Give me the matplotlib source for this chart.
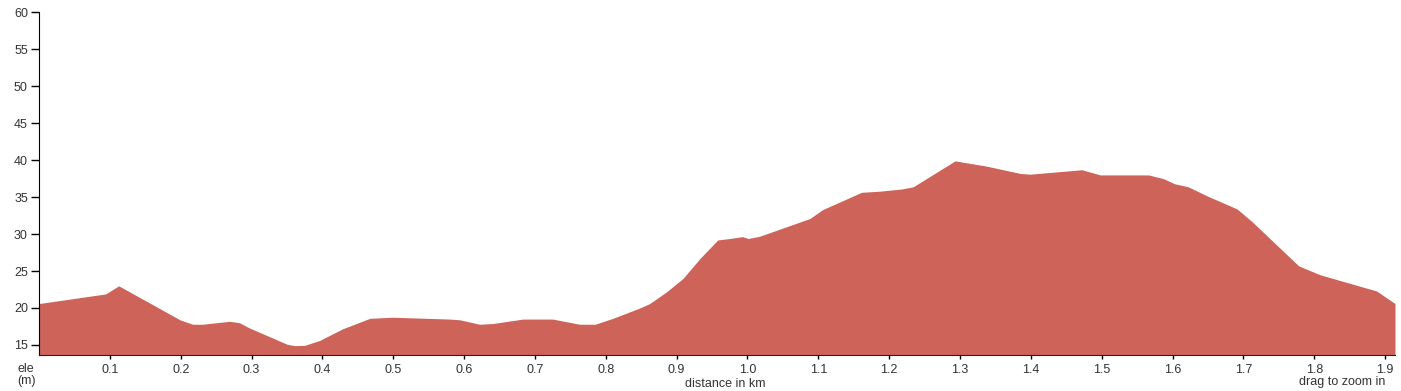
import matplotlib.pyplot as plt
import numpy as np

# elevation profile
dist_km = [0.0, 0.094, 0.1125, 0.199, 0.217, 0.231, 0.269, 0.283, 0.297, 0.350,
           0.361, 0.375, 0.396, 0.429, 0.467, 0.499, 0.580, 0.594, 0.622, 0.641,
           0.683, 0.725, 0.763, 0.785, 0.810, 0.848, 0.862, 0.886, 0.909, 0.933,
           0.958, 0.975, 0.993, 1.001, 1.017, 1.088, 1.106, 1.161, 1.187, 1.218,
           1.234, 1.293, 1.337, 1.385, 1.399, 1.472, 1.498, 1.554, 1.566, 1.587,
           1.603, 1.622, 1.648, 1.691, 1.712, 1.778, 1.808, 1.888, 1.914]
ele_m = [20.6, 21.9, 23.0, 18.4, 17.8, 17.8, 18.2, 18.0, 17.3, 15.1,
         14.9, 14.95, 15.6, 17.2, 18.6, 18.75, 18.5, 18.4, 17.8, 17.9,
         18.5, 18.5, 17.8, 17.8, 18.6, 20.0, 20.6, 22.2, 24.0, 26.7,
         29.2, 29.4, 29.65, 29.4, 29.7, 32.1, 33.3, 35.65, 35.8, 36.1,
         36.4, 39.9, 39.2, 38.2, 38.1, 38.7, 38.0, 38.0, 38.0, 37.5,
         36.8, 36.4, 35.2, 33.4, 31.7, 25.7, 24.5, 22.3, 20.6]

x_ticks = [0.1, 0.2, 0.3, 0.4, 0.5, 0.6, 0.7, 0.8, 0.9, 1.0,
           1.1, 1.2, 1.3, 1.4, 1.5, 1.6, 1.7, 1.8, 1.9]
y_ticks = [15, 20, 25, 30, 35, 40, 45, 50, 55, 60]

plt.rcParams['font.family'] = ['Liberation Sans', 'DejaVu Sans']
txt = '#333333'

fig = plt.figure(figsize=(14.01, 3.91), dpi=100)
W, H = 1401, 391
ax = fig.add_axes([39 / W, 1 - 355.3 / H, (1395 - 39) / W, (355.3 - 12.3) / H])

ax.fill_between(dist_km, ele_m, 13.6, color='#cd6359', linewidth=0)

ax.set_xlim(0, dist_km[-1])
ax.set_ylim(13.6, 60)
ax.set_xticks(x_ticks)
ax.set_xticklabels(['%.1f' % t for t in x_ticks])
ax.set_yticks(y_ticks)

for s in ['top', 'right']:
    ax.spines[s].set_visible(False)
ax.spines['left'].set_color('black')
ax.spines['bottom'].set_color('#3a1a16')
ax.tick_params(axis='y', length=6, width=1, pad=2, labelsize=9, labelcolor=txt)
ax.tick_params(axis='x', length=3, width=1, pad=3, labelsize=9, labelcolor=txt)

fig.text(17 / W, 1 - 375 / H, 'ele\n(m)', fontsize=9, color=txt,
         ha='left', va='center', linespacing=0.95)
fig.text(725 / W, 1 - 384 / H, 'distance in km', fontsize=9, color=txt,
         ha='center', va='center')
fig.text(1385 / W, 1 - 382 / H, 'drag to zoom in', fontsize=9, color=txt,
         ha='right', va='center')

fig.savefig('out.png', dpi=100)
